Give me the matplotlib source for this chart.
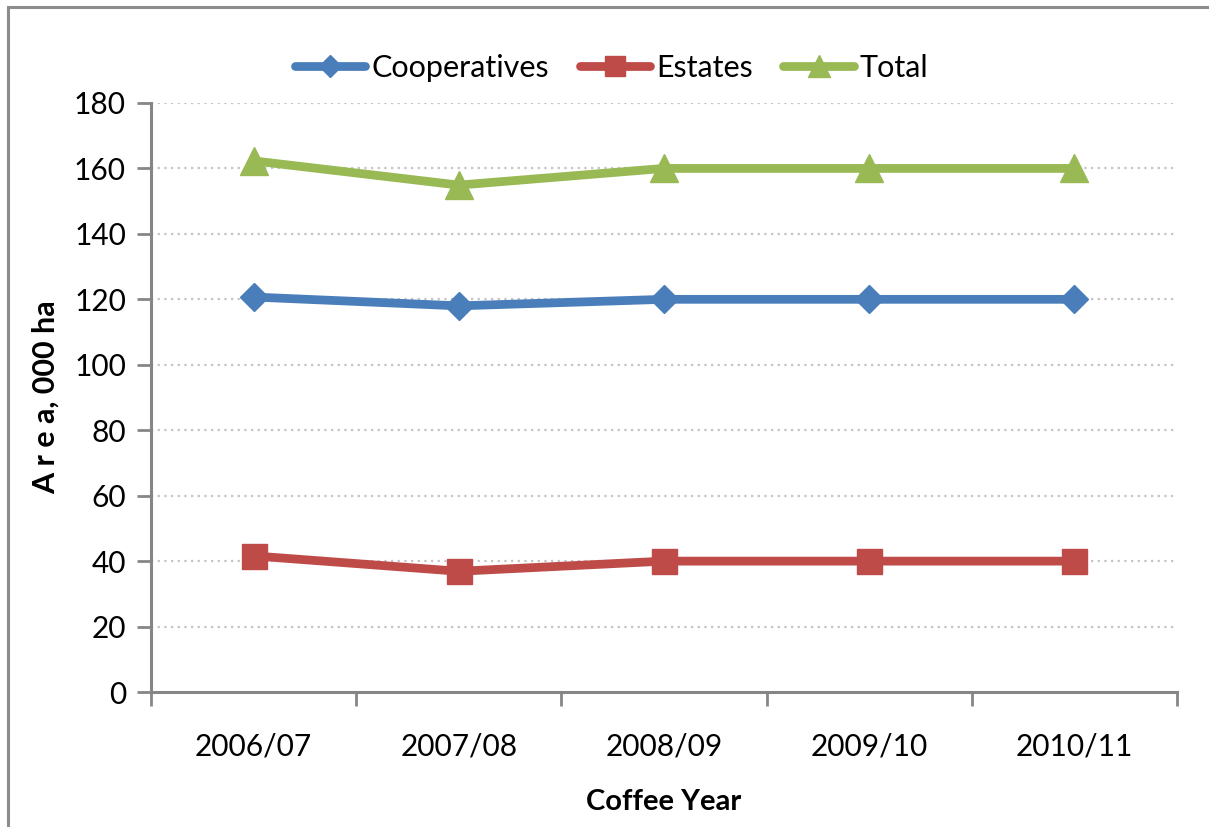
import matplotlib
matplotlib.use("Agg")
import matplotlib.pyplot as plt
from matplotlib.patches import Rectangle
from matplotlib.ticker import FixedLocator, NullFormatter

plt.rcParams['font.family'] = ['Lato', 'DejaVu Sans']

years = ["2006/07", "2007/08", "2008/09", "2009/10", "2010/11"]
cooperatives = [120.7, 118.0, 120.0, 120.0, 120.0]
estates = [41.6, 36.9, 40.0, 40.0, 40.0]
total = [162.3, 154.9, 160.0, 160.0, 160.0]

fig = plt.figure(figsize=(12.09, 8.27), dpi=100)
ax = fig.add_axes([0.1249, 0.1632, 0.8486, 0.7123])

# outer chart frame
fig.patches.append(Rectangle((0.0066, -0.1), 1.2, 1.0915, transform=fig.transFigure,
                             fill=False, edgecolor="#8c8c8c", linewidth=2.2))

x = range(len(years))
common = dict(linewidth=6.3, solid_capstyle="round", solid_joinstyle="round")
ax.plot(x, cooperatives, color="#4A7EBB", marker="D", markersize=14.5,
        label="Cooperatives", zorder=3, **common)
ax.plot(x, estates, color="#BE4B48", marker="s", markersize=18,
        label="Estates", zorder=3, **common)
ax.plot(x, total, color="#98B954", marker="^", markersize=20,
        label="Total", zorder=3, **common)

ax.set_xlim(-0.5, len(years) - 0.5)
ax.set_ylim(0, 180)
ax.set_yticks(range(0, 181, 20))
ax.tick_params(axis="y", labelsize=21.5, length=10, width=2, color="#868686", pad=8)

ax.set_xticks(list(x))
ax.set_xticklabels(years, fontsize=21.5)
ax.tick_params(axis="x", which="major", length=0, pad=29)
ax.xaxis.set_minor_locator(FixedLocator([i - 0.5 for i in range(len(years) + 1)]))
ax.xaxis.set_minor_formatter(NullFormatter())
ax.tick_params(axis="x", which="minor", length=10, width=2, color="#868686")

for y in range(20, 181, 20):
    ax.axhline(y, color="#c4c4c4", linewidth=1.6, linestyle=(0, (1, 2)), zorder=1)

for side in ("top", "right"):
    ax.spines[side].set_visible(False)
for side in ("left", "bottom"):
    ax.spines[side].set_color("#868686")
    ax.spines[side].set_linewidth(2.2)

ax.set_xlabel("Coffee Year", fontsize=21, fontweight="bold", labelpad=21)
ax.set_ylabel("A r e a, 000 ha", fontsize=22, fontweight="bold")
ax.yaxis.set_label_coords(-0.089, 0.5)

leg = fig.legend(loc="center", bbox_to_anchor=(0.506, 0.918), ncol=3, frameon=False,
                 fontsize=22, handlelength=2.3, handletextpad=0.2, columnspacing=1.0,
                 markerscale=0.8)

fig.savefig("out.png", dpi=100)
